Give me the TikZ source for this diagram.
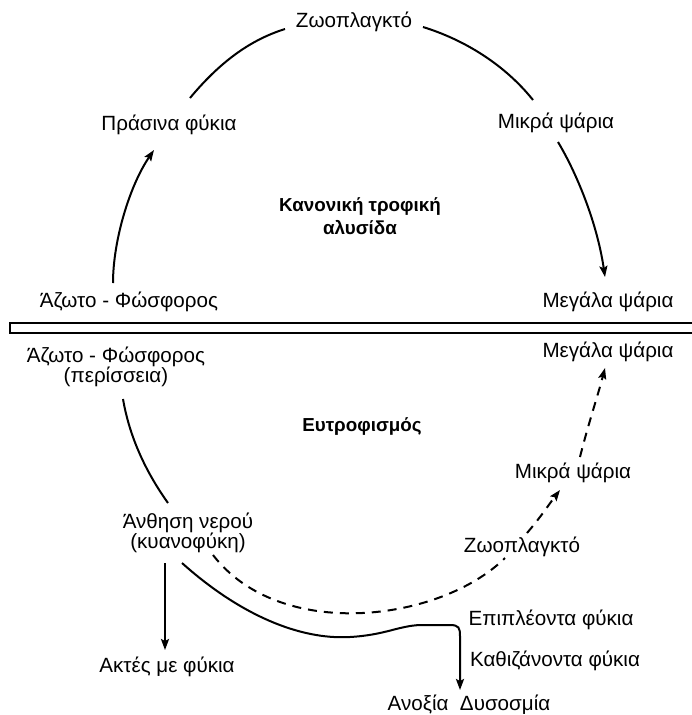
\documentclass[tikz,border=0pt]{standalone}
\usepackage{fontspec}
\setmainfont{Liberation Sans}
\usetikzlibrary{arrows.meta}
\begin{document}
\begin{tikzpicture}[x=1pt,y=-1pt,
  lbl/.style={font=\fontsize{20.6}{20.5}\selectfont, inner sep=1pt, align=center},
  ttl/.style={font=\fontsize{18.8}{23}\selectfont\bfseries, inner sep=1pt, align=center},
  link/.style={line width=2pt},
  arr/.style={link, -{Stealth[length=11pt,width=8pt,inset=2pt]}},
  dsh/.style={link, dash pattern=on 9pt off 7pt}]
\useasboundingbox (0,0) rectangle (691,715);

% upper half
\node[lbl] (zt)  at (354,22)  {Ζωοπλαγκτό};
\node[lbl] (pf)  at (169,125) {Πράσινα φύκια};
\node[lbl] (mp)  at (556,123) {Μικρά ψάρια};
\node[ttl] (kt)  at (360,216) {Κανονική τροφική\\αλυσίδα};
\node[lbl] (az1) at (129,302) {Άζωτο - Φώσφορος};
\node[lbl] (mg1) at (608,302) {Μεγάλα ψάρια};

% water surface bar
\draw[line width=1.8pt] (10,323) rectangle (705,333);

% lower half
\node[lbl] (az2) at (116,367) {Άζωτο - Φώσφορος\\(περίσσεια)};
\node[lbl] (mg2) at (608,352) {Μεγάλα ψάρια};
\node[ttl] (eu)  at (362,427) {Ευτροφισμός};
\node[lbl] (mp2) at (573,473) {Μικρά ψάρια};
\node[lbl] (an)  at (188,533) {Άνθηση νερού\\(κυανοφύκη)};
\node[lbl] (zp2) at (522,547) {Ζωοπλαγκτό};
\node[lbl] (ak)  at (167,667) {Ακτές με φύκια};
\node[lbl] (ep)  at (551,620) {Επιπλέοντα φύκια};
\node[lbl] (ka)  at (555,661) {Καθιζάνοντα φύκια};
\node[lbl] (ad)  at (469,705) {Ανοξία\ \ Δυσοσμία};

% upper cycle
\draw[link] ([shift={(21,-27)}]pf.center) .. controls (220,62) and (250,40) .. ([shift={(-69,7)}]zt.center);
\draw[link] ([shift={(69,5)}]zt.center) .. controls (465,40) and (505,65) .. ([shift={(-23,-23)}]mp.center);
\draw[arr]  ([shift={(2,19)}]mp.center) .. controls (576,172) and (597,222) .. ([shift={(-3,-25)}]mg1.center);
\draw[arr]  ([shift={(-16,-19)}]az1.center) .. controls (113,240) and (130,185) .. ([shift={(-15,25)}]pf.center);

% lower part
\draw[link] ([shift={(7,32)}]az2.center) .. controls (130,440) and (148,475) .. ([shift={(-20,-30)}]an.center);
\draw[arr]  ([shift={(-23,30)}]an.center) -- ([shift={(-2,-17)}]ak.center);
\draw[arr]  ([shift={(-6,30)}]an.center) .. controls (240,615) and (300,640) .. (350,637)
            .. controls (385,635) and (398,626) .. (420,625) -- (450,625)
            .. controls (459,625) and (460,628) .. (460,636) -- ([shift={(-9,-15)}]ad.center);
\draw[dsh]  ([shift={(25,22)}]an.center) .. controls (280,642) and (440,622) .. ([shift={(-17,11)}]zp2.center);
\draw[dsh,arr] ([shift={(5,-14)}]zp2.center) .. controls (540,518) and (550,503) .. ([shift={(-13,17)}]mp2.center);
\draw[dsh,arr] ([shift={(7,-16)}]mp2.center) .. controls (588,425) and (598,395) .. ([shift={(-3,16)}]mg2.center);
\end{tikzpicture}
\end{document}
